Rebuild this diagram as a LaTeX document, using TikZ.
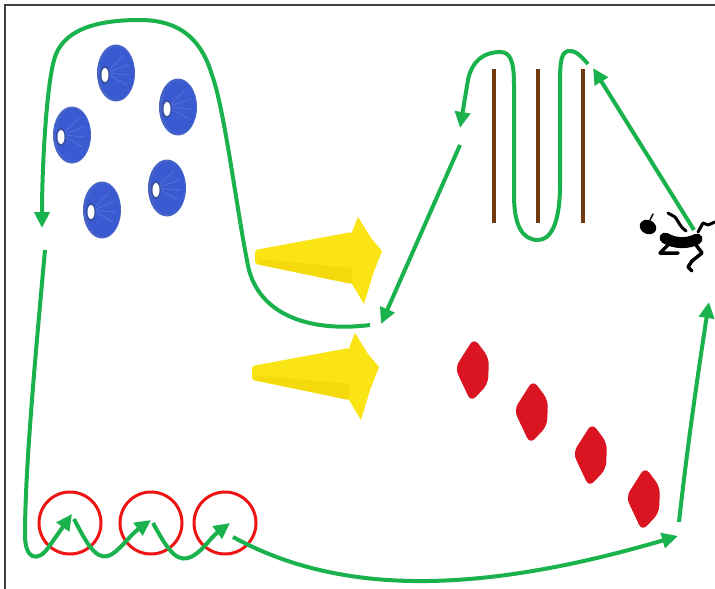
\documentclass[tikz,border=0pt]{standalone}
\usepackage{tikz}
\usetikzlibrary{arrows.meta}

\definecolor{rungreen}{RGB}{26,178,76}
\definecolor{discblue}{RGB}{58,90,210}
\definecolor{discrim}{RGB}{70,100,200}
\definecolor{coneyellow}{RGB}{250,228,20}
\definecolor{coneshade}{RGB}{232,196,0}
\definecolor{markerred}{RGB}{218,20,32}
\definecolor{hoopred}{RGB}{238,20,20}
\definecolor{polebrown}{RGB}{110,58,18}

% flat disc cone seen from the side
\newcommand{\disccone}[2]{%
  \begin{scope}[shift={(#1,#2)}]
    \fill[discrim] (0,0) ellipse (19 and 28.5);
    \fill[discblue] (1,0) ellipse (17 and 26.5);
    \foreach \a in {-45,-20,5,30}
      \draw[white,opacity=0.12,line width=1pt] (-10,0) -- ++(\a:24);
    \fill[discrim!80!black] (-11,2) ellipse (5 and 9);
    \fill[white] (-11,2) ellipse (3.5 and 7);
  \end{scope}}

% traffic cone lying on its side, tip to the left
\newcommand{\trafficcone}[2]{%
  \begin{scope}[shift={(#1,#2)}]
    \fill[coneyellow,rounded corners=2] (255,250) -- (352,232) -- (352,284) -- (255,264) -- cycle;
    \fill[coneshade,opacity=0.3] (258,259) -- (352,268) -- (352,284) -- (258,264) -- cycle;
    \fill[coneyellow] (352,232) -- (358,217) -- (371,238) -- (382,251) -- (373,274) -- (364,304) -- (352,284) -- cycle;
  \end{scope}}

% red marker cone
\newcommand{\markercone}[2]{%
  \fill[markerred,rounded corners=7,shift={(#1,#2)}]
    (2,-32) -- (17,-12) -- (16,14) -- (-1,32) -- (-17,-2) -- cycle;}

\begin{document}
\begin{tikzpicture}[x=1pt,y=-1pt,
    run/.style={rungreen,line width=4pt,-{Triangle[length=16pt,width=15pt]}},
    hoop/.style={hoopred,line width=3pt},
    pole/.style={polebrown,line width=4pt},
    limb/.style={black,line cap=round,line join=round}]
  \useasboundingbox (0,0) rectangle (715,589);
  \fill[white] (0,0) rectangle (715,589);
  \draw[black!75,line width=2pt] (5,589) -- (5,5) -- (715,5);

  % disc cones
  \disccone{116}{73}
  \disccone{178}{107}
  \disccone{72}{135}
  \disccone{167}{188}
  \disccone{102}{210}

  % traffic cones
  \trafficcone{0}{0}
  \trafficcone{-3}{116}

  % poles
  \foreach \x in {494,538,583}
    \draw[pole] (\x,69) -- (\x,223);

  % marker cones
  \markercone{472}{370}
  \markercone{531}{412}
  \markercone{590}{455}
  \markercone{643}{499}

  % hoops
  \foreach \x in {70,151,225}
    \draw[hoop] (\x,523) circle[radius=31];

  % runner
  \fill[black,rotate around={-25:(648,227)}] (648,227) ellipse (8.5 and 7);
  \draw[limb,line width=1.5pt] (650,220) -- (653,214);
  \draw[limb,line width=11pt] (665,238) .. controls (675,244) and (688,244) .. (697,239);
  \draw[limb,line width=3pt] (668,213) -- (675,217) .. controls (679,222) and (680,227) .. (686,231);
  \draw[limb,line width=3pt] (698,232) -- (703,223) -- (708,225) -- (715,222);
  \draw[limb,line width=3.5pt] (668,245) -- (660,253) -- (678,253);
  \draw[limb,line width=3.5pt] (696,245) -- (702,253) -- (692,261) -- (688,267) -- (692,271);

  % course
  \draw[run] (370,325) .. controls (315,332) and (262,318) .. (249,270)
    .. controls (238,220) and (225,110) .. (212,75)
    .. controls (203,45) and (185,20) .. (140,20)
    .. controls (95,20) and (62,30) .. (54,60)
    .. controls (46,90) and (42,170) .. (42,228);
  \draw[run] (45,250) .. controls (35,360) and (25,470) .. (25,535)
    .. controls (25,560) and (38,562) .. (48,548) -- (72,514);
  \draw[run] (74,519) .. controls (85,540) and (95,560) .. (108,556)
    .. controls (118,553) and (130,535) .. (151,520);
  \draw[run] (153,523) .. controls (165,545) and (175,562) .. (188,558)
    .. controls (200,555) and (210,538) .. (230,523);
  \draw[run] (233,537) .. controls (330,590) and (460,600) .. (678,536);
  \draw[run] (679,522) .. controls (688,440) and (700,360) .. (709,302);
  \draw[run] (694,230) -- (593,68);
  \draw[run] (588,64) .. controls (580,55) and (575,50) .. (568,51)
    .. controls (560,53) and (560,65) .. (560,90) -- (560,185)
    .. controls (560,225) and (550,240) .. (538,240)
    .. controls (522,240) and (514,225) .. (514,195) -- (514,85)
    .. controls (514,60) and (510,52) .. (500,52)
    .. controls (485,52) and (472,60) .. (468,80) -- (460,128);
  \draw[run] (460,145) -- (381,324);
\end{tikzpicture}
\end{document}
